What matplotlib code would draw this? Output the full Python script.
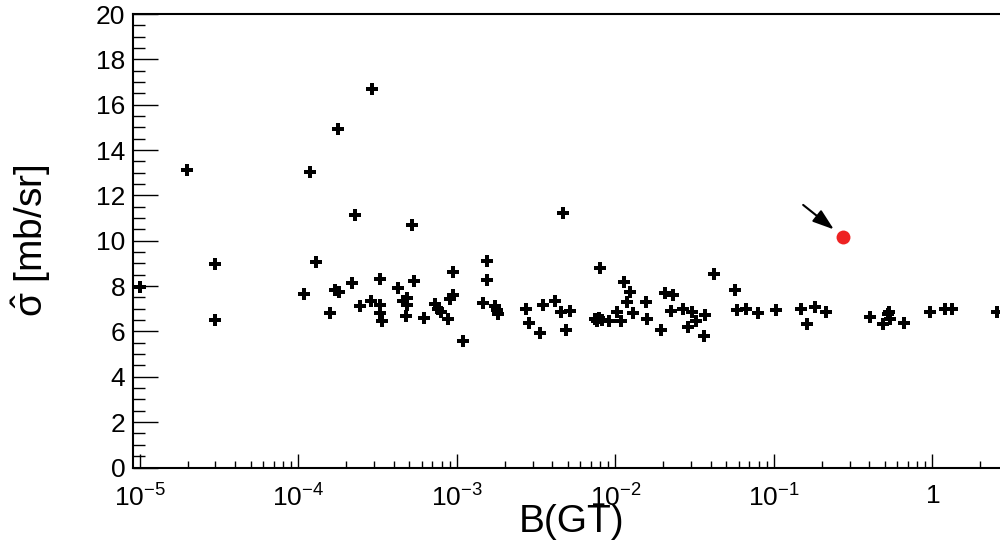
import matplotlib
matplotlib.use("Agg")
import matplotlib.pyplot as plt
from matplotlib.ticker import FixedLocator, LogLocator, NullFormatter, MultipleLocator

plt.rcParams['font.family'] = ['Liberation Sans', 'DejaVu Sans']
plt.rcParams['mathtext.fontset'] = 'custom'
plt.rcParams['mathtext.rm'] = 'Liberation Sans'
plt.rcParams['mathtext.it'] = 'Liberation Sans'
plt.rcParams['mathtext.bf'] = 'Liberation Sans:bold'

# ---- data ----
bgt = [1.00e-5, 1.97e-5, 2.98e-5, 2.98e-5, 1.09e-4, 1.18e-4, 1.29e-4, 1.58e-4,
       1.70e-4, 1.80e-4, 1.79e-4, 2.19e-4, 2.28e-4, 2.46e-4, 2.87e-4, 2.90e-4,
       3.27e-4, 3.27e-4, 3.29e-4, 3.39e-4, 4.25e-4, 4.55e-4, 4.82e-4, 4.88e-4,
       4.78e-4, 5.19e-4, 5.36e-4, 6.16e-4, 7.28e-4, 7.65e-4, 7.99e-4, 8.75e-4,
       9.05e-4, 9.49e-4, 9.49e-4, 1.10e-3, 1.47e-3, 1.56e-3, 1.56e-3, 1.74e-3,
       1.79e-3, 1.83e-3, 2.73e-3, 2.86e-3, 3.36e-3, 3.51e-3, 4.14e-3, 4.65e-3,
       4.54e-3, 5.17e-3, 4.90e-3, 8.00e-3, 7.43e-3, 7.91e-3, 8.20e-3, 7.62e-3,
       9.15e-3, 1.02e-2, 1.09e-2, 1.13e-2, 1.24e-2, 1.19e-2, 1.29e-2, 1.57e-2,
       1.58e-2, 2.05e-2, 2.32e-2, 1.94e-2, 2.23e-2, 2.67e-2, 3.03e-2, 3.22e-2,
       2.87e-2, 3.68e-2, 3.64e-2, 4.21e-2, 5.72e-2, 5.89e-2, 6.65e-2, 7.97e-2,
       0.103, 0.149, 0.162, 0.182, 0.212, 0.402, 0.488, 0.521, 0.536, 0.540,
       0.659, 0.970, 1.196, 1.339, 2.575]
sigma = [7.95, 13.12, 8.97, 6.50, 7.64, 13.05, 9.08, 6.81,
         7.85, 7.75, 14.93, 8.15, 11.14, 7.12, 7.33, 16.71,
         8.30, 7.17, 6.81, 6.46, 7.90, 7.34, 7.46, 7.17,
         6.70, 10.69, 8.22, 6.58, 7.23, 7.01, 6.87, 6.55,
         7.45, 7.61, 8.60, 5.58, 7.24, 9.11, 8.27, 7.12,
         6.95, 6.77, 6.99, 6.37, 5.94, 7.17, 7.36, 11.21,
         6.86, 6.92, 6.08, 8.82, 6.55, 6.61, 6.50, 6.46,
         6.47, 6.86, 6.46, 8.16, 7.72, 7.31, 6.83, 7.31,
         6.55, 7.70, 7.59, 6.08, 6.89, 6.99, 6.86, 6.46,
         6.20, 6.73, 5.80, 8.53, 7.81, 6.95, 7.00, 6.83,
         6.93, 7.00, 6.34, 7.07, 6.86, 6.65, 6.34, 6.76, 6.86, 6.57,
         6.39, 6.84, 6.98, 7.00, 6.84]

special_bgt = [0.274]
special_sigma = [10.18]

arrow_from = (0.153, 11.58)
arrow_to = (0.239, 10.50)

xtick_vals = [1e-5, 1e-4, 1e-3, 1e-2, 1e-1, 1]
xtick_labels = [r'$10^{-5}$', r'$10^{-4}$', r'$10^{-3}$', r'$10^{-2}$', r'$10^{-1}$', r'$1$']
ytick_vals = list(range(0, 21, 2))

# ---- figure ----
fig = plt.figure(figsize=(10, 5.44), dpi=100)
ax = fig.add_axes([0.133, 1 - 467.5 / 544, 0.877, 453.5 / 544])

ax.plot(bgt, sigma, linestyle='none', marker='P', markersize=8.8,
        color='black', markeredgewidth=0)
ax.plot(special_bgt, special_sigma, linestyle='none', marker='o', markersize=10,
        color='#ee2222', markeredgewidth=0)
ax.annotate('', xy=arrow_to, xytext=arrow_from,
            arrowprops=dict(arrowstyle='-|>,head_length=0.65,head_width=0.22',
                            color='black', lw=1.5, mutation_scale=20,
                            shrinkA=0, shrinkB=0))

ax.set_xscale('log')
ax.set_xlim(9.05e-6, 3.088)
ax.set_ylim(0, 20)

ax.xaxis.set_major_locator(FixedLocator(xtick_vals))
ax.set_xticklabels(xtick_labels)
ax.xaxis.set_minor_locator(LogLocator(base=10, subs=[2, 3, 4, 5, 6, 7, 8, 9], numticks=20))
ax.xaxis.set_minor_formatter(NullFormatter())

ax.yaxis.set_major_locator(FixedLocator(ytick_vals))
ax.set_yticklabels([str(v) for v in ytick_vals])
ax.yaxis.set_minor_locator(MultipleLocator(0.5))

ax.tick_params(axis='y', which='major', direction='in', length=18, width=1.0,
               labelsize=19, pad=5.5, right=False)
ax.tick_params(axis='y', which='minor', direction='in', length=8.6, width=1.0, right=False)
ax.tick_params(axis='x', which='major', direction='in', length=10, width=1.0,
               labelsize=19, pad=12, top=False)
ax.tick_params(axis='x', which='minor', direction='in', length=5, width=1.0, top=False)

for s in ['left', 'bottom', 'top']:
    ax.spines[s].set_linewidth(1.5)
ax.spines['right'].set_visible(False)

ax.set_xlabel('B(GT)', fontsize=28)
ax.xaxis.label.set_va('baseline')
ax.xaxis.set_label_coords((572 - 133) / 877, -(532 - 467.5) / 453.5)

ax.set_ylabel(r'$\hat{\sigma}$ [mb/sr]', fontsize=28)
ax.yaxis.label.set_rotation_mode('default')
ax.yaxis.label.set_va('center')
ax.yaxis.label.set_ha('center')
ax.yaxis.set_label_coords((31 - 133) / 877, 0.5)

fig.savefig('out.png', dpi=100)
